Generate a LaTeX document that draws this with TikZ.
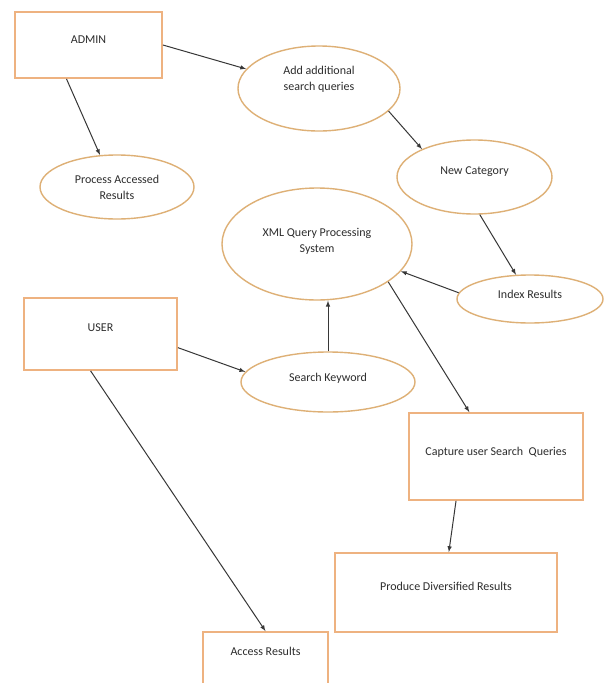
\documentclass[tikz,border=0pt]{standalone}
\usepackage{fontspec}
\setmainfont{Carlito}
\usetikzlibrary{shapes.geometric}
\definecolor{boxline}{RGB}{238,178,128}
\definecolor{ovalline}{RGB}{222,176,118}
\definecolor{arrowline}{RGB}{55,55,55}
\definecolor{labeltext}{RGB}{45,45,45}
\tikzset{
  procbox/.style={draw=boxline, line width=1.8pt, fill=white, rectangle, text=labeltext, text depth=#1,
    font=\fontsize{12}{16}\selectfont},
  procbox/.default=11pt,
  oval/.style={draw=ovalline, line width=1.4pt, fill=white, ellipse, inner sep=0pt, text=labeltext, align=center,
    font=\fontsize{12}{16}\selectfont},
  flow/.style={draw=arrowline, line width=1pt, ->}
}
\begin{document}
\begin{tikzpicture}[x=1pt, y=-1pt, >=latex]
\useasboundingbox (0,0) rectangle (606,683);
\fill[white] (0,0) rectangle (606,683);
% boxes
\node[procbox=10pt, minimum width=147pt, minimum height=66pt] (admin) at (88.5,45) {ADMIN};
\node[procbox=12pt, minimum width=153pt, minimum height=72pt] (user) at (100.5,334) {USER};
\node[procbox=10pt, minimum width=174pt, minimum height=87pt] (capture) at (496,456.5) {Capture user Search\ \ Queries};
\node[procbox=12pt, minimum width=222pt, minimum height=79pt] (produce) at (446,592.5) {Produce Diversified Results};
\node[procbox=24pt, minimum width=125pt, minimum height=63pt] (access) at (265.5,663.5) {Access Results};
% ellipses
\node[oval, text depth=20pt, minimum width=162pt, minimum height=85pt] (addq) at (319,88.5) {Add additional\\search queries};
\node[oval, minimum width=154pt, minimum height=64pt] (process) at (117,187) {Process Accessed\\Results};
\node[oval, text depth=13pt, minimum width=155pt, minimum height=74pt] (newcat) at (474.5,177) {New Category};
\node[oval, text depth=8pt, minimum width=190pt, minimum height=112pt] (xml) at (317,244) {XML Query Processing\\System};
\node[oval, text depth=9pt, minimum width=146pt, minimum height=48pt] (index) at (530,299) {Index Results};
\node[oval, text depth=9pt, minimum width=174pt, minimum height=60pt] (search) at (328,382) {Search Keyword};
% arrows
\draw[flow] (admin.east) -- (addq.165);
\draw[flow] (admin.237) -- (process.118);
\draw[flow] (addq.-18) -- (newcat.152);
\draw[flow] (newcat.-82) -- (index.120);
\draw[flow] (index.175) -- (xml.-18);
\draw[flow] (search.north) -- (search.north |- xml.south);
\draw[flow] (user.-10) -- (search.173);
\draw[flow] (user.-105) -- (access.north);
\draw[flow] (xml.-28) -- (capture.121);
\draw[flow] (capture.-132) -- (produce.86);
\end{tikzpicture}
\end{document}
